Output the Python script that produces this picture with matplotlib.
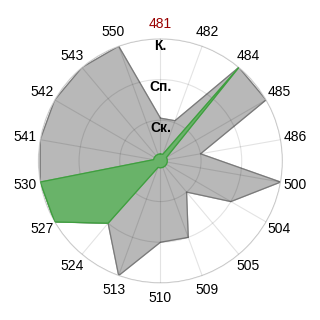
import numpy as np
import matplotlib
matplotlib.use('Agg')
import matplotlib.pyplot as plt

plt.rcParams['font.family'] = ['Liberation Sans', 'DejaVu Sans']

# ==================== data ====================
categories = ['481', '482', '484', '485', '486', '500', '504', '505', '509',
              '510', '513', '524', '527', '530', '541', '542', '543', '550']
gray_vals = [1.05, 1.05, 3, 3, 1.0, 3, 2, 1, 2, 2, 3, 2, 3, 3, 3, 3, 3, 3]
green_vals = [0.17, 0.17, 3, 0.17, 0.17, 0.17, 0.17, 0.17, 0.17,
              0.17, 0.17, 2, 3, 3, 0.17, 0.17, 0.17, 0.17]
level_labels = ['Ск.', 'Сп.', 'К.']
level_vals = [1, 2, 3]
highlight = '481'

n = len(categories)
angles = np.linspace(0, 2 * np.pi, n, endpoint=False)

fig = plt.figure(figsize=(3.2, 3.2), dpi=100)
ax = fig.add_axes([0.120, 0.116, 0.7625, 0.7625], projection='polar')
ax.set_theta_zero_location('N')
ax.set_theta_direction(-1)

ang_closed = np.append(angles, angles[0])
g = np.append(gray_vals, gray_vals[0])
gr = np.append(green_vals, green_vals[0])

ax.fill(ang_closed, g, color='#b8b8b8', zorder=1)
ax.plot(ang_closed, g, color='#7a7a7a', lw=0.9, zorder=2)
ax.fill(ang_closed, gr, color='#69b369', zorder=3)
ax.plot(ang_closed, gr, color='#3f9e3f', lw=0.9, zorder=4)

ax.set_ylim(0, 3)
ax.set_yticks(level_vals)
ax.set_yticklabels([])
ax.set_xticks(angles)
ax.set_xticklabels([])
ax.set_axisbelow(False)
ax.grid(True, color='black', alpha=0.11, lw=0.8, zorder=5)
ax.spines['polar'].set_color('#d8d8d8')
ax.spines['polar'].set_linewidth(0.8)

# category labels
for a, c in zip(angles, categories):
    col = '#990000' if c == highlight else 'black'
    ax.text(a, 3.37, c, ha='center', va='center', fontsize=10, color=col)

# level labels
for v, lab in zip(level_vals, level_labels):
    ax.text(0, v - 0.18, lab, ha='center', va='center', fontsize=10,
            fontweight='bold', color='black', zorder=6)

fig.savefig('out.png', dpi=100)
